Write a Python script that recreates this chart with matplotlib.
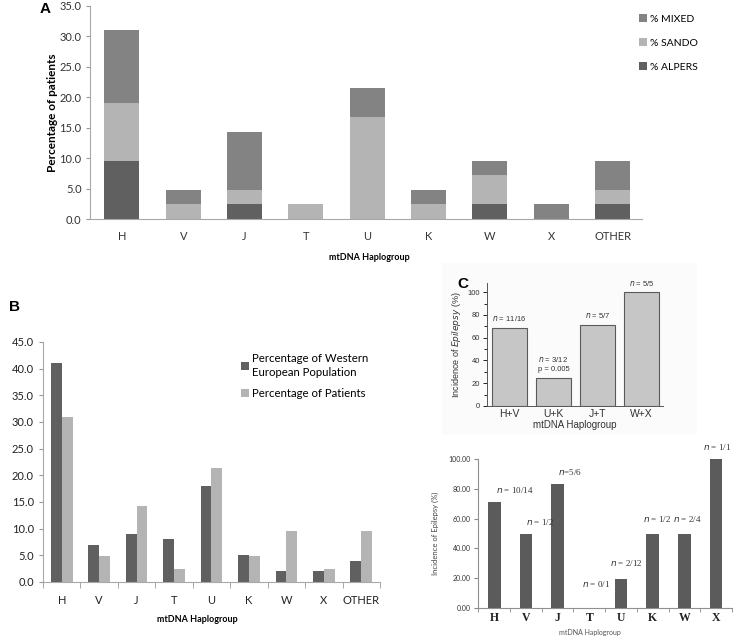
import matplotlib
matplotlib.use('Agg')
import matplotlib.pyplot as plt
from matplotlib.patches import Rectangle
import numpy as np

W, H = 747, 642

# ---- data ----
groups_a = ['H', 'V', 'J', 'T', 'U', 'K', 'W', 'X', 'OTHER']
alpers = [9.5, 0.0, 2.4, 0.0, 0.0, 0.0, 2.4, 0.0, 2.4]
sando = [9.5, 2.4, 2.4, 2.4, 16.7, 2.4, 4.8, 0.0, 2.4]
mixed = [12.0, 2.4, 9.5, 0.0, 4.8, 2.4, 2.4, 2.4, 4.8]

western = [41.0, 7.0, 9.0, 8.0, 18.0, 5.0, 2.0, 2.0, 4.0]
patients = [31.0, 4.8, 14.3, 2.4, 21.4, 4.8, 9.5, 2.4, 9.5]

groups_c = ['H+V', 'U+K', 'J+T', 'W+X']
incidence_c = [68.75, 25.0, 71.4, 100.0]
labels_c = ['11/16', '3/12', '5/7', '5/5']

groups_d = ['H', 'V', 'J', 'T', 'U', 'K', 'W', 'X']
incidence_d = [71.4, 50.0, 83.3, 0.0, 19.5, 50.0, 50.0, 100.0]
labels_d = ['10/14', '1/2', '5/6', '0/1', '2/12', '1/2', '2/4', '1/1']

# colours
c_dark = '#606060'
c_mid = '#838383'
c_light = '#b4b4b4'


def px_axes(fig, left, top, right, bottom):
    # pixel box -> figure fraction
    return fig.add_axes([left / W, 1 - bottom / H, (right - left) / W, (bottom - top) / H])


def ftext(fig, x, y, s, **kw):
    fig.text(x / W, 1 - y / H, s, **kw)


fig = plt.figure(figsize=(W / 100, H / 100), dpi=100)
sans = 'Lato'

# ---------------- panel A ----------------
ax = px_axes(fig, 90, 6, 642, 219)
x = np.arange(len(groups_a))
bw = 0.57
b1 = np.array(alpers)
b2 = b1 + np.array(sando)
ax.bar(x, alpers, bw, color=c_dark, label='% ALPERS')
ax.bar(x, sando, bw, bottom=b1, color=c_light, label='% SANDO')
ax.bar(x, mixed, bw, bottom=b2, color=c_mid, label='% MIXED')
ax.set_xlim(-0.52, 8.48)
ax.set_ylim(0, 35)
ax.set_yticks(np.arange(0, 36, 5))
ax.set_yticklabels([f'{v:.1f}' for v in np.arange(0, 36, 5)], family=sans, fontsize=8, color='#333333')
ax.set_xticks(x)
ax.set_xticklabels(groups_a, family=sans, fontsize=8, color='#333333')
ax.tick_params(axis='x', length=0, pad=9)
ax.tick_params(axis='y', length=3, color='#999999', pad=3)
for s in ['top', 'right']:
    ax.spines[s].set_visible(False)
for s in ['left', 'bottom']:
    ax.spines[s].set_color('#a8a8a8')
ax.set_ylabel('Percentage of patients', family=sans, fontsize=8.5, fontweight='bold', labelpad=1)
handles, labs = ax.get_legend_handles_labels()
fig.legend(handles[::-1], labs[::-1], loc='upper left', bbox_to_anchor=(639 / W, 1 - 14 / H),
           frameon=False, prop={'family': sans, 'size': 7.5}, handlelength=0.8, handleheight=0.8,
           handletextpad=0.3, labelspacing=1.4, borderaxespad=0, borderpad=0)
ftext(fig, 369, 258, 'mtDNA Haplogroup', family=sans, fontsize=6.5, fontweight='bold', ha='center', va='center')
ftext(fig, 45, 9, 'A', family='Liberation Sans', fontsize=11, fontweight='bold', ha='center', va='center')

# ---------------- panel B ----------------
ax = px_axes(fig, 43, 342, 380, 582)
x = np.arange(len(groups_a))
bw = 0.29
ax.bar(x - bw / 2, western, bw, color=c_dark, label='Percentage of Western\nEuropean Population')
ax.bar(x + bw / 2, patients, bw, color=c_light, label='Percentage of Patients')
ax.set_xlim(-0.5, 8.5)
ax.set_ylim(0, 45)
ax.set_yticks(np.arange(0, 46, 5))
ax.set_yticklabels([f'{v:.1f}' for v in np.arange(0, 46, 5)], family=sans, fontsize=8, color='#222222')
ax.set_xticks(x)
ax.set_xticklabels(groups_a, family=sans, fontsize=8, color='#222222')
ax.set_xticks(np.arange(-0.5, 9.0, 1.0), minor=True)
ax.tick_params(axis='x', which='major', length=0, pad=9)
ax.tick_params(axis='x', which='minor', length=4, color='#999999')
ax.tick_params(axis='y', length=3, color='#999999')
for s in ['top', 'right']:
    ax.spines[s].set_visible(False)
for s in ['left', 'bottom']:
    ax.spines[s].set_color('#a8a8a8')
leg = ax.legend(loc='upper left', bbox_to_anchor=((241 - 43) / 337, 1 - (353 - 342) / 240), frameon=False,
                prop={'family': sans, 'size': 8.2}, handlelength=0.7, handleheight=0.7,
                handletextpad=0.3, labelspacing=0.9, borderaxespad=0, borderpad=0)
for t in leg.get_texts():
    t.set_linespacing(1.35)
ftext(fig, 197, 620, 'mtDNA Haplogroup', family=sans, fontsize=6.5, fontweight='bold', ha='center', va='center')
ftext(fig, 15, 307, 'B', family='Liberation Sans', fontsize=11, fontweight='bold', ha='center', va='center')

# ---------------- panel C ----------------
fig.patches.append(Rectangle((442 / W, 1 - 435 / H), (697 - 442) / W, (435 - 263) / H,
                             transform=fig.transFigure, facecolor='#fbfbfb', edgecolor='none', zorder=-5))
ax = px_axes(fig, 487, 283, 663, 406)
ax.patch.set_alpha(0)
x = np.arange(len(groups_c))
ax.bar(x, incidence_c, 0.78, color='#c6c6c6', edgecolor='#5a5a5a', linewidth=0.8)
for xi, v, s in zip(x, incidence_c, labels_c):
    txt = f'$\\it{{n}}$ = {s}'
    if s == '3/12':
        txt += '\np = 0.005'
    ax.text(xi, v + 4, txt, ha='center', va='bottom', family='Liberation Sans', fontsize=5.5,
            color='#333333', linespacing=1.3)
ax.set_xlim(-0.51, 3.49)
ax.set_ylim(0, 108)
ax.set_yticks(np.arange(0, 101, 20))
ax.set_yticks(np.arange(10, 101, 20), minor=True)
ax.set_xticks(x)
ax.set_xticklabels(groups_c, family='Liberation Sans', fontsize=7.5, color='#333333')
ax.tick_params(axis='y', labelsize=5.5, labelcolor='#333333', length=3, width=0.6, pad=2)
ax.tick_params(axis='y', which='minor', length=2, width=0.6)
ax.tick_params(axis='x', length=0, pad=2)
for t in ax.get_yticklabels():
    t.set_family('Liberation Sans')
for s in ['top', 'right']:
    ax.spines[s].set_visible(False)
for s in ['left', 'bottom']:
    ax.spines[s].set_linewidth(0.7)
    ax.spines[s].set_color('#555555')
ax.set_ylabel('Incidence of $\\it{Epilepsy}$ (%)', family='Liberation Sans', fontsize=6.5, color='#333333', labelpad=3)
ax.set_xlabel('mtDNA Haplogroup', family='Liberation Sans', fontsize=7, color='#333333', labelpad=1)
ftext(fig, 463, 284, 'C', family='Liberation Sans', fontsize=11, fontweight='bold', ha='center', va='center')

# ---------------- panel D ----------------
ax = px_axes(fig, 478, 459, 732, 608)
x = np.arange(len(groups_d))
ax.bar(x, incidence_d, 0.4, color='#5b5b5b')
dx = [0.66, 0.46, 0.38, 0.23, 0.16, 0.14, 0.1, 0.04]
dy = [8, 8, 8, 16, 11, 10, 10, 8]
for xi, v, s, ox, oy in zip(x, incidence_d, labels_d, dx, dy):
    sep = '=' if s == '5/6' else ' = '
    ax.text(xi + ox, v + oy, f'$\\it{{n}}${sep}{s}', ha='center', va='center',
            family='Liberation Serif', fontsize=6.5, color='#333333')
ax.set_xlim(-0.51, 7.49)
ax.set_ylim(0, 100)
ax.set_yticks(np.arange(0, 101, 20))
ax.set_yticklabels([f'{v:.2f}' for v in np.arange(0, 101, 20)], family=sans, fontsize=5, color='#333333')
ax.set_xticks(x)
ax.set_xticklabels(groups_d, family='Liberation Serif', fontsize=8.5, fontweight='bold', color='#222222')
ax.set_xticks(np.arange(-0.5, 8.0, 1.0), minor=True)
ax.tick_params(axis='x', which='major', length=0, pad=3)
ax.tick_params(axis='x', which='minor', length=3, color='#888888')
ax.tick_params(axis='y', length=3, color='#888888', pad=2)
for s in ['top', 'right']:
    ax.spines[s].set_visible(False)
for s in ['left', 'bottom']:
    ax.spines[s].set_color('#909090')
ftext(fig, 435, 533, 'Incidence of Epilepsy (%)', family=sans, fontsize=5.5, color='#444444',
      rotation=90, ha='center', va='center')
ftext(fig, 590, 633, 'mtDNA Haplogroup', family=sans, fontsize=5, color='#555555', ha='center', va='center')

fig.savefig('out.png', dpi=100)
